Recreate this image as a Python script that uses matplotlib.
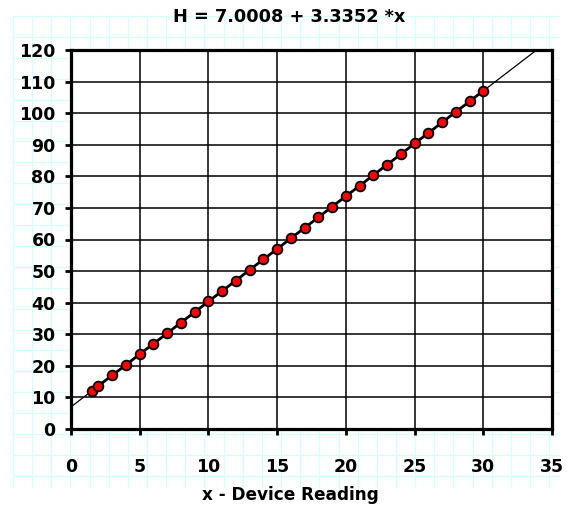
import matplotlib
matplotlib.use("Agg")
import matplotlib.pyplot as plt
import numpy as np

# Data
x_vals = [1.5, 2, 3, 4, 5, 6, 7, 8, 9, 10, 11, 12, 13, 14, 15,
          16, 17, 18, 19, 20, 21, 22, 23, 24, 25, 26, 27, 28, 29, 30]
h_vals = [12.0, 13.7, 17.0, 20.3, 23.7, 27.0, 30.3, 33.7, 37.0, 40.4,
          43.7, 47.0, 50.4, 53.7, 57.0, 60.4, 63.7, 67.0, 70.4, 73.7,
          77.0, 80.4, 83.7, 87.0, 90.4, 93.7, 97.1, 100.4, 103.7, 107.1]
intercept = 7.0008
slope = 3.3352
title_text = "H = 7.0008 + 3.3352 *x"
x_label = "x - Device Reading"
x_ticks = [0, 5, 10, 15, 20, 25, 30, 35]
y_ticks = [0, 10, 20, 30, 40, 50, 60, 70, 80, 90, 100, 110, 120]

W, H = 569, 505
fig = plt.figure(figsize=(W / 100, H / 100), dpi=100)
fig.patch.set_facecolor("white")

# Background graph-paper grid (figure pixel coordinates)
bg = fig.add_axes([0, 0, 1, 1])
bg.set_xlim(0, W)
bg.set_ylim(H, 0)
bg.axis("off")
gx0, gx1, gy0, gy1 = 13, 559, 16, 487
cyan = "#d2ffff"
for k in range(29):
    xx = gx0 + 19.15 * k
    bg.plot([xx, xx], [gy0, gy1], color=cyan, lw=0.9, zorder=0)
for k in range(23):
    yy = gy0 + 20.9 * k
    bg.plot([gx0, gx1], [yy, yy], color=cyan, lw=0.9, zorder=0)

left, right, top, bottom = 71, 552, 50, 429
ax = fig.add_axes([left / W, 1 - bottom / H, (right - left) / W, (bottom - top) / H])
ax.set_facecolor("white")
ax.set_xlim(0, 35)
ax.set_ylim(0, 120)
ax.set_xticks(x_ticks)
ax.set_yticks(y_ticks)
ax.grid(True, color="black", lw=1.1, zorder=1)
ax.set_axisbelow(True)
for s in ax.spines.values():
    s.set_linewidth(2.3)
    s.set_color("black")
    s.set_zorder(5)

ax.axline((0, intercept), slope=slope, color="black", lw=0.9, zorder=2)
ax.plot(x_vals, h_vals, color="black", lw=2.0, zorder=3)
ax.plot(x_vals, h_vals, ls="none", marker="o", ms=7.0, mfc="#ff0000",
        mec="black", mew=1.3, zorder=4)

ax.tick_params(axis="x", direction="out", length=4, width=2, pad=17, labelsize=12.5)
ax.tick_params(axis="y", direction="out", length=4, width=2, pad=7, labelsize=12.5)
for lab in ax.get_xticklabels() + ax.get_yticklabels():
    lab.set_fontweight("bold")

fig.text(289 / W, 1 - 17 / H, title_text, ha="center", va="center",
         fontsize=12.8, fontweight="bold")
fig.text(290 / W, 1 - 495 / H, x_label, ha="center", va="center",
         fontsize=12.2, fontweight="bold")

fig.savefig("out.png", dpi=100)
